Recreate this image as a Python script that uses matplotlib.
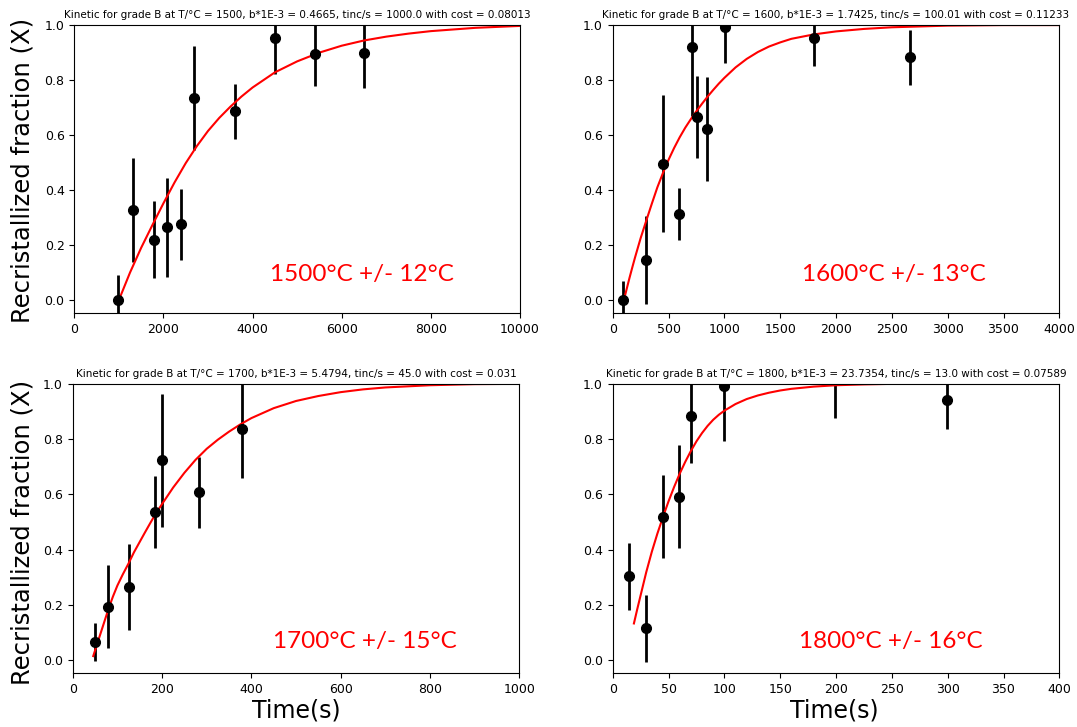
import matplotlib
matplotlib.use("Agg")
import matplotlib.pyplot as plt

# measured points (time in s, recrystallized fraction, error)
t_1500 = [985, 1310, 1795, 2085, 2385, 2685, 3605, 4500, 5400, 6500]
x_1500 = [0.0, 0.328, 0.219, 0.265, 0.275, 0.734, 0.686, 0.952, 0.894, 0.898]
e_1500 = [0.09, 0.19, 0.14, 0.18, 0.13, 0.19, 0.10, 0.13, 0.115, 0.127]

t_1600 = [95, 298, 454, 597, 707, 752, 848, 1005, 1803, 2663]
x_1600 = [0.0, 0.145, 0.496, 0.313, 0.921, 0.665, 0.623, 0.994, 0.952, 0.883]
e_1600 = [0.07, 0.16, 0.25, 0.095, 0.25, 0.15, 0.19, 0.133, 0.10, 0.10]

t_1700 = [50, 78, 125, 184, 199, 283, 378]
x_1700 = [0.066, 0.193, 0.264, 0.535, 0.723, 0.607, 0.838]
e_1700 = [0.07, 0.15, 0.155, 0.13, 0.24, 0.13, 0.18]

t_1800 = [15, 29.5, 45, 59.5, 70.5, 100, 199.5, 299.5]
x_1800 = [0.303, 0.115, 0.52, 0.592, 0.883, 0.994, 1.03, 0.943]
e_1800 = [0.12, 0.12, 0.15, 0.185, 0.17, 0.20, 0.155, 0.107]

# fitted kinetics
ft_1500 = [1000, 1250, 1500, 1750, 2000, 2250, 2500, 2750, 3000, 3250, 3500, 3750,
           4000, 4500, 5000, 5500, 6000, 6500, 7000, 7500, 8000, 9000, 10000]
fx_1500 = [0.0, 0.1, 0.19, 0.272, 0.352, 0.428, 0.498, 0.56, 0.615, 0.662, 0.703,
           0.74, 0.773, 0.828, 0.868, 0.9, 0.925, 0.944, 0.958, 0.969, 0.978, 0.99, 0.997]

ft_1600 = [100, 125, 150, 175, 200, 250, 300, 350, 400, 450, 500, 550, 600, 650, 700,
           750, 800, 850, 900, 950, 1000, 1100, 1200, 1300, 1400, 1500, 1600, 1800,
           2000, 2250, 2500, 3000, 3500, 4000]
fx_1600 = [0.0, 0.04, 0.08, 0.118, 0.155, 0.225, 0.288, 0.35, 0.41, 0.462, 0.51,
           0.553, 0.592, 0.627, 0.658, 0.687, 0.714, 0.74, 0.764, 0.787, 0.808, 0.846,
           0.877, 0.902, 0.922, 0.937, 0.95, 0.966, 0.977, 0.986, 0.992, 0.998, 1.0, 1.0]

ft_1700 = [46, 55, 60, 70, 80, 90, 100, 112, 125, 137, 150, 162, 175, 187, 200, 225,
           250, 275, 300, 325, 350, 375, 400, 450, 500, 550, 600, 650, 700, 800, 900, 1000]
fx_1700 = [0.015, 0.06, 0.085, 0.135, 0.185, 0.23, 0.27, 0.31, 0.35, 0.39, 0.428,
           0.463, 0.5, 0.533, 0.565, 0.625, 0.678, 0.725, 0.765, 0.798, 0.827, 0.853,
           0.876, 0.912, 0.938, 0.956, 0.97, 0.98, 0.987, 0.995, 0.999, 1.0]

ft_1800 = [19, 22, 25, 30, 35, 40, 45, 50, 55, 60, 65, 70, 75, 80, 85, 90, 95, 100,
           110, 120, 130, 140, 150, 160, 180, 200, 225, 250, 300, 400]
fx_1800 = [0.133, 0.185, 0.235, 0.318, 0.392, 0.458, 0.518, 0.575, 0.627, 0.675,
           0.718, 0.757, 0.792, 0.822, 0.848, 0.87, 0.888, 0.903, 0.927, 0.945, 0.958,
           0.968, 0.976, 0.982, 0.99, 0.995, 0.998, 1.0, 1.0, 1.0]

titles = [
    "Kinetic for grade B at T/°C = 1500, b*1E-3 = 0.4665, tinc/s = 1000.0 with cost = 0.08013",
    "Kinetic for grade B at T/°C = 1600, b*1E-3 = 1.7425, tinc/s = 100.01 with cost = 0.11233",
    "Kinetic for grade B at T/°C = 1700, b*1E-3 = 5.4794, tinc/s = 45.0 with cost = 0.031",
    "Kinetic for grade B at T/°C = 1800, b*1E-3 = 23.7354, tinc/s = 13.0 with cost = 0.07589",
]
temp_labels = ["1500°C +/- 12°C", "1600°C +/- 13°C", "1700°C +/- 15°C", "1800°C +/- 16°C"]
x_max = [10000, 4000, 1000, 400]
x_ticks = [range(0, 10001, 2000), range(0, 4001, 500), range(0, 1001, 200), range(0, 401, 50)]

points = [(t_1500, x_1500, e_1500), (t_1600, x_1600, e_1600),
          (t_1700, x_1700, e_1700), (t_1800, x_1800, e_1800)]
fits = [(ft_1500, fx_1500), (ft_1600, fx_1600), (ft_1700, fx_1700), (ft_1800, fx_1800)]

fig = plt.figure(figsize=(10.77, 7.27), dpi=100)

rects = [
    [0.069, 0.5695, 0.4138, 0.396],
    [0.5689, 0.5695, 0.4147, 0.396],
    [0.0675, 0.074, 0.4147, 0.398],
    [0.5689, 0.074, 0.4147, 0.398],
]
label_pos = [(0.645, 0.132), (0.63, 0.132), (0.654, 0.108), (0.623, 0.108)]

for i in range(4):
    ax = fig.add_axes(rects[i])
    t, x, e = points[i]
    ax.errorbar(t, x, yerr=e, fmt="o", color="black", ms=7, elinewidth=2, capsize=0)
    ax.plot(fits[i][0], fits[i][1], color="red", lw=1.5)
    ax.set_xlim(0, x_max[i])
    ax.set_ylim(-0.047, 1.0)
    ax.set_xticks(list(x_ticks[i]))
    ax.set_yticks([0.0, 0.2, 0.4, 0.6, 0.8, 1.0])
    ax.tick_params(labelsize=9)
    ax.set_title(titles[i], fontsize=7.5, pad=5)
    ax.text(label_pos[i][0], label_pos[i][1], temp_labels[i], transform=ax.transAxes,
            color="red", fontsize=17.5, family="Lato", ha="center", va="center")

fig.text(0.0205, 0.766, "Recristallized fraction (X)", rotation=90, fontsize=17.5,
         ha="center", va="center")
fig.text(0.0205, 0.268, "Recristallized fraction (X)", rotation=90, fontsize=17.5,
         ha="center", va="center")
fig.text(0.275, 0.023, "Time(s)", fontsize=17, ha="center", va="center")
fig.text(0.775, 0.023, "Time(s)", fontsize=17, ha="center", va="center")

fig.savefig("out.png", dpi=100)
